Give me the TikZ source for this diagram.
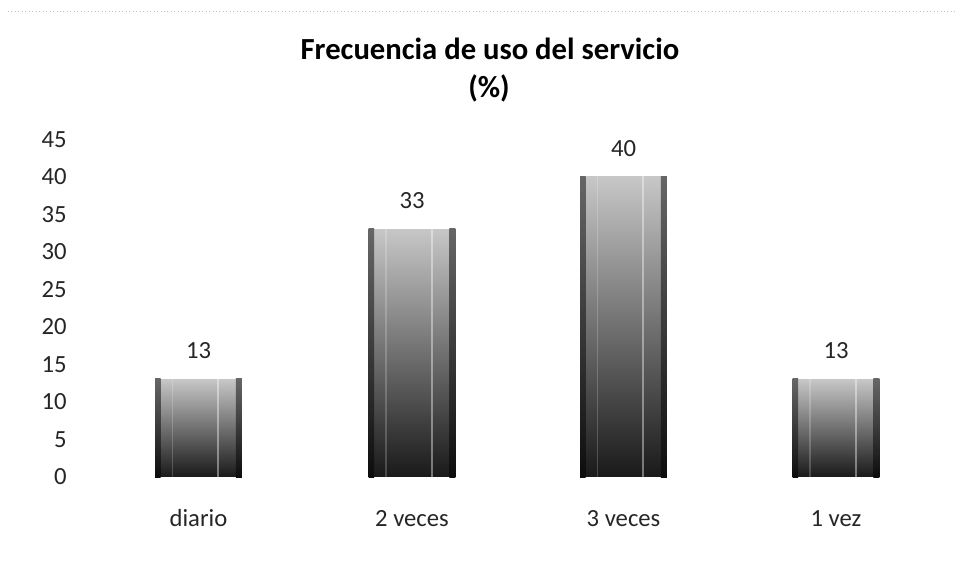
\documentclass[tikz,border=0pt]{standalone}
\usepackage{fontspec}
\setmainfont{Carlito}
\begin{document}
\begin{tikzpicture}[x=0.75pt,y=-0.75pt,
  lbl/.style={font=\fontsize{18.5}{20}\selectfont, text=black!85, inner sep=0pt},
  titlef/.style={font=\fontsize{23}{26}\selectfont\bfseries, text=black, inner sep=0pt},
  bar/.style={draw=none, inner sep=0pt, minimum width=64.5pt, anchor=south,
              top color=black!22, bottom color=black!90},
  edgeshade/.style={top color=black!60, bottom color=black!95}]
\useasboundingbox (0,0) rectangle (966,561);
\fill[white] (0,0) rectangle (966,561);
\draw[black!25, dotted, line width=0.6pt] (8,11) -- (955,11);
% title
\node[titlef, anchor=base] (title) at (490,59) {Frecuencia de uso del servicio};
\node[titlef, anchor=base] (pct) at (489,97) {(\%)};
% y axis labels
\foreach \v in {0,5,...,45}
  \node[lbl, anchor=east] (y\v) at (67,{477-7.5*\v}) {\v};
% bars
\foreach \i/\cx/\val/\cat in {1/198.5/13/diario, 2/412/33/2 veces, 3/623.5/40/3 veces, 4/836/13/1 vez}{
  \node[bar, minimum height={7.5*\val*0.75pt}] (b\i) at (\cx,477) {};
  \shade[edgeshade] (b\i.south west) rectangle ([xshift=4pt]b\i.north west);
  \shade[edgeshade] ([xshift=-4.5pt]b\i.south east) rectangle (b\i.north east);
  \fill[white, opacity=0.4] ([xshift=14pt]b\i.south) rectangle ([xshift=15.5pt]b\i.north);
  \fill[white, opacity=0.2] ([xshift=-20pt]b\i.south) rectangle ([xshift=-19pt]b\i.north);
  \node[lbl, anchor=south] (v\i) at ([yshift=15pt]b\i.north) {\val};
  \node[lbl, anchor=base] (c\i) at (\cx,526) {\cat};
}
\end{tikzpicture}
\end{document}
